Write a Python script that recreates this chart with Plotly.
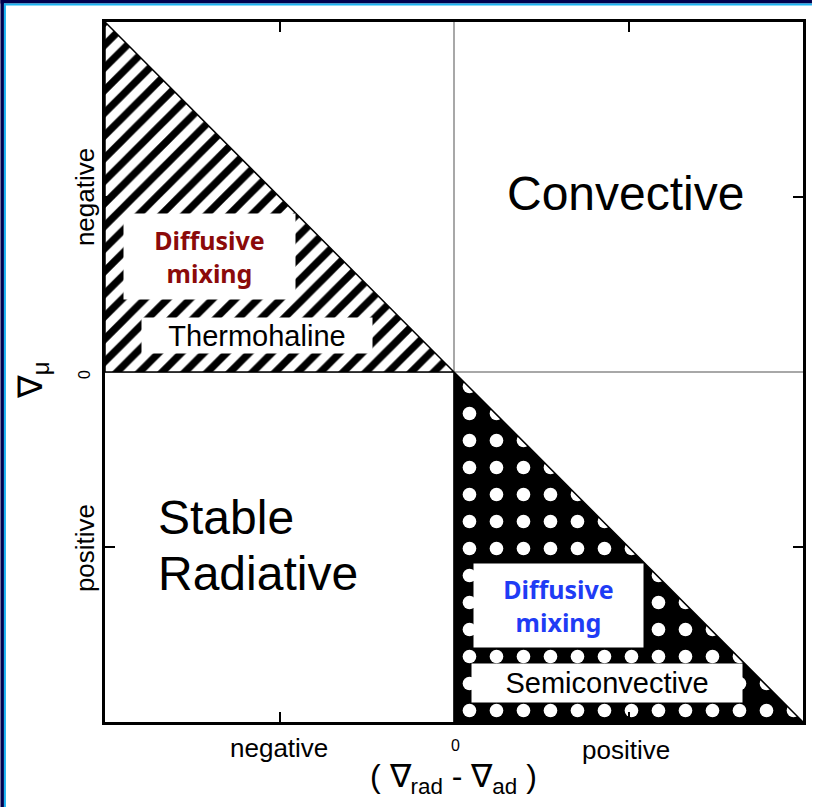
import plotly.graph_objects as go

# Regime regions in the (grad_rad - grad_ad, -grad_mu) plane
thermohaline_x = [-1, -1, 0, -1]
thermohaline_y = [1, 0, 0, 1]
semiconvective_x = [0, 0, 1, 0]
semiconvective_y = [0, -1, -1, 0]

axis_ticks = [-0.5, 0.5]

W, H = 813, 807
L, R, T, B = 105, 7, 22, 85
PW, PH = W - L - R, H - T - B


def px(x):
    return (x - L) / PW


def py(y):
    return (H - B - y) / PH


fig = go.Figure()

fig.add_trace(go.Scatter(
    x=thermohaline_x, y=thermohaline_y, mode="lines", fill="toself",
    fillcolor="white",
    fillpattern=dict(shape="/", fgcolor="black", bgcolor="white", fgopacity=1,
                     size=16, solidity=0.45),
    line=dict(color="black", width=1.5), hoverinfo="skip", showlegend=False,
))
fig.add_trace(go.Scatter(
    x=semiconvective_x, y=semiconvective_y, mode="lines", fill="toself",
    fillcolor="black",
    fillpattern=dict(shape=".", fgcolor="white", bgcolor="black", fgopacity=1,
                     size=27, solidity=0.2),
    line=dict(color="black", width=1.5), hoverinfo="skip", showlegend=False,
))

SANS = "Liberation Sans, Arial, sans-serif"
COMIC = "Comic Sans MS, Noto Sans, sans-serif"

ann = []
# region names
ann.append(dict(x=0.49, y=0.51, text="Convective", font=dict(size=48, family=SANS, color="black"),
                xref="x", yref="y", showarrow=False))
ann.append(dict(x=-0.855, y=-0.415, text="Stable", font=dict(size=48, family=SANS, color="black"),
                xref="x", yref="y", showarrow=False, xanchor="left"))
ann.append(dict(x=-0.855, y=-0.575, text="Radiative", font=dict(size=48, family=SANS, color="black"),
                xref="x", yref="y", showarrow=False, xanchor="left"))
# labelled boxes inside the patterned regions
ann.append(dict(x=-0.70, y=0.33, text="<b>Diffusive<br>mixing</b>",
                font=dict(size=25, family=COMIC, color="#8b0a0a"),
                xref="x", yref="y", showarrow=False, bgcolor="white", width=171, height=85,
                borderpad=0, align="center"))
ann.append(dict(x=-0.565, y=0.103, text="Thermohaline",
                font=dict(size=29, family=SANS, color="black"),
                xref="x", yref="y", showarrow=False, bgcolor="white", width=230, height=35,
                borderpad=0, align="center"))
ann.append(dict(x=0.298, y=-0.667, text="<b>Diffusive<br>mixing</b>",
                font=dict(size=25, family=COMIC, color="#1f3cf5"),
                xref="x", yref="y", showarrow=False, bgcolor="white", width=169, height=83,
                borderpad=0, align="center"))
ann.append(dict(x=0.437, y=-0.889, text="Semiconvective",
                font=dict(size=29, family=SANS, color="black"),
                xref="x", yref="y", showarrow=False, bgcolor="white", width=270, height=38,
                borderpad=0, align="center"))

# axis labels
for txt, xx, yy, size in [("negative", 280, 748, 26), ("0", 457, 745, 16), ("positive", 628, 750, 26)]:
    ann.append(dict(x=px(xx), y=py(yy), text=txt, xref="paper", yref="paper", showarrow=False,
                    xanchor="center", yanchor="middle",
                    font=dict(size=size, family=SANS, color="black")))
ann.append(dict(x=px(455), y=py(778), text="( ∇<sub>rad</sub> - ∇<sub>ad</sub> )", xref="paper", yref="paper",
                showarrow=False, xanchor="center", yanchor="middle",
                font=dict(size=32, family=SANS, color="black")))
for txt, xx, yy, size in [("negative", 85, 197, 26), ("0", 85, 375, 16), ("positive", 85, 548, 26)]:
    ann.append(dict(x=px(xx), y=py(yy), text=txt, xref="paper", yref="paper", showarrow=False,
                    xanchor="center", yanchor="middle",
                    textangle=-90, font=dict(size=size, family=SANS, color="black")))
ann.append(dict(x=px(32), y=py(380), text="∇<sub>μ</sub>", xref="paper", yref="paper", showarrow=False,
                xanchor="center", yanchor="middle",
                textangle=-90, font=dict(size=34, family=SANS, color="black")))

# slide frame: navy band with a cyan inner rule on the top and left edges
shapes = [
    dict(type="rect", xref="paper", yref="paper", x0=px(0), x1=px(W + 2), y0=py(0), y1=py(3.5),
         fillcolor="#00004e", line=dict(width=0), layer="above"),
    dict(type="rect", xref="paper", yref="paper", x0=px(3.5), x1=px(W + 2), y0=py(3.5), y1=py(5.5),
         fillcolor="#1bb3f2", line=dict(width=0), layer="above"),
    dict(type="rect", xref="paper", yref="paper", x0=px(0), x1=px(3.5), y0=py(0), y1=py(H + 2),
         fillcolor="#00004e", line=dict(width=0), layer="above"),
    dict(type="rect", xref="paper", yref="paper", x0=px(3.5), x1=px(5.5), y0=py(3.5), y1=py(H + 2),
         fillcolor="#1bb3f2", line=dict(width=0), layer="above"),
]

axis_common = dict(
    range=[-1, 1], tickvals=axis_ticks, ticks="inside", ticklen=10, tickwidth=2, tickcolor="black",
    showticklabels=False, showgrid=False, zeroline=True, zerolinecolor="#a8a8a8", zerolinewidth=2,
    showline=True, linecolor="black", linewidth=3, mirror="ticks", fixedrange=True,
)

fig.update_layout(
    width=W, height=H, margin=dict(l=L, r=R, t=T, b=B),
    paper_bgcolor="white", plot_bgcolor="white",
    xaxis=axis_common, yaxis=axis_common,
    annotations=ann, shapes=shapes, showlegend=False,
)

fig.write_html("out.html")
